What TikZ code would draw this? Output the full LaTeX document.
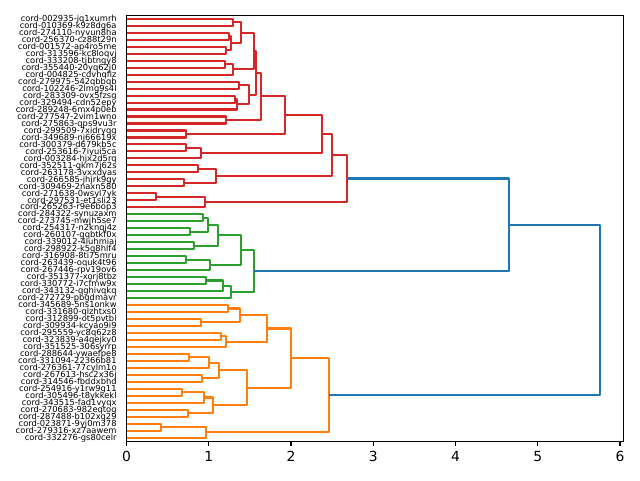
\documentclass[tikz,border=0pt]{standalone}
\usepackage{fontspec}
\setmainfont{DejaVu Sans}
\usetikzlibrary{calc}

\definecolor{tabblue}{HTML}{1F77B4}
\definecolor{taborange}{HTML}{FF7F0E}
\definecolor{tabgreen}{HTML}{2CA02C}
\definecolor{tabred}{HTML}{D62728}

\tikzset{
  link/.style={line width=2.1pt, line join=round},
  spine/.style={line width=1.1pt, black},
  leaflabel/.style={font=\fontsize{8.33}{10}\selectfont, anchor=mid east, inner sep=0pt},
  ticklabel/.style={font=\fontsize{13.89}{16}\selectfont, anchor=north, inner sep=0pt}
}

% one U-shaped link: colour, first child, second child, height, new cluster
\newcommand{\joinlink}[5]{%
  \coordinate (m) at ($(#2)!0.5!(#3)$);
  \coordinate (#5) at (m -| #4,0);
  \draw[link, #1] (#2) -| (#5) |- (#3);
}

\begin{document}
\begin{tikzpicture}[x=1pt, y=-1pt]
    \useasboundingbox (0,0) rectangle (640,480);

    \begin{scope}[shift={(126.5,11.81)}, x=82.25pt, y=-6.98pt]
    % Leaves and their labels
    \foreach \name [count=\i] in {
        cord-002935-jq1xumrh, cord-010369-k9z8dg6a, cord-274110-nyvun8ha,
        cord-256370-cz88t29n, cord-001572-ap4ro5me, cord-313596-kc8loqvj,
        cord-333208-tjbtngy8, cord-355440-20yq62j0, cord-004825-cdvhqfiz,
        cord-279975-542qbbqb, cord-102246-2lmg9s4l, cord-283309-ovx5fzsg,
        cord-329494-cdn52epy, cord-289248-6mx4p0eb, cord-277547-2vim1wno,
        cord-275863-qps9vu3r, cord-299509-7xidryqg, cord-349689-nj66619x,
        cord-300379-d679kb5c, cord-253616-7iyui5ca, cord-003284-hjx2d5rq,
        cord-352511-gkm7j62s, cord-263178-3vxxdyas, cord-266585-jhjrk9gy,
        cord-309469-2naxn580, cord-271638-0wsyl7yk, cord-297531-et1sli23,
        cord-265263-r9e6bop3, cord-284322-synuzaxm, cord-273745-mwjh5se7,
        cord-254317-n2knqj4z, cord-260107-gqbtkf0x, cord-339012-4luhmiaj,
        cord-298922-k5q8hlf4, cord-316908-8ti75mru, cord-263439-oquk4t96,
        cord-267446-rpv19ov6, cord-351377-xorj8tbz, cord-330772-i7cfmw9x,
        cord-343132-qghivqkq, cord-272729-pbgdmavr, cord-345689-5ns1onkw,
        cord-331680-qlzhtxs0, cord-312899-ot5pvtbl, cord-309934-kcyao9i9,
        cord-295559-yc8q62z8, cord-323839-a4qejky0, cord-351525-306syrrp,
        cord-288644-ywaefpe8, cord-331094-22366b81, cord-276361-77cylm1o,
        cord-267613-hsc2x36j, cord-314546-fbddxbhd, cord-254916-y1rw9g11,
        cord-305496-t8ykkekl, cord-343515-fad1vyqx, cord-270683-982eqtog,
        cord-287488-b102xq29, cord-023871-9yj0m378, cord-279316-xz7aawem,
        cord-332276-gs80celr} {
        \coordinate (l\i) at (0,\i);
        \node[leaflabel] (t\i) at ([xshift=-9.7pt]l\i) {\name};
    }

    % Red cluster
    \joinlink{tabred}{l1}{l2}{1.299}{c1}
    \joinlink{tabred}{l3}{l4}{1.246}{c2}
    \joinlink{tabred}{l5}{l6}{1.206}{c3}
    \joinlink{tabred}{c2}{c3}{1.270}{c4}
    \joinlink{tabred}{c1}{c4}{1.392}{c5}
    \joinlink{tabred}{l7}{l8}{1.197}{c6}
    \joinlink{tabred}{c6}{l9}{1.299}{c7}
    \joinlink{tabred}{c5}{c7}{1.550}{c8}
    \joinlink{tabred}{l10}{l11}{1.372}{c9}
    \joinlink{tabred}{l12}{l13}{1.319}{c10}
    \joinlink{tabred}{c10}{l14}{1.347}{c11}
    \joinlink{tabred}{c9}{c11}{1.485}{c12}
    \joinlink{tabred}{c8}{c12}{1.574}{c13}
    \joinlink{tabred}{l15}{l16}{1.206}{c14}
    \joinlink{tabred}{c13}{c14}{1.631}{c15}
    \joinlink{tabred}{l17}{l18}{0.723}{c16}
    \joinlink{tabred}{c15}{c16}{1.927}{c17}
    \joinlink{tabred}{l19}{l20}{0.723}{c18}
    \joinlink{tabred}{c18}{l21}{0.906}{c19}
    \joinlink{tabred}{c17}{c19}{2.381}{c20}
    \joinlink{tabred}{l22}{l23}{0.873}{c21}
    \joinlink{tabred}{l24}{l25}{0.703}{c22}
    \joinlink{tabred}{c21}{c22}{1.084}{c23}
    \joinlink{tabred}{c20}{c23}{2.500}{c24}
    \joinlink{tabred}{l26}{l27}{0.359}{c25}
    \joinlink{tabred}{c25}{l28}{0.954}{c26}
    \joinlink{tabred}{c24}{c26}{2.685}{c27}

    % Green cluster
    \joinlink{tabgreen}{l29}{l30}{0.926}{g1}
    \joinlink{tabgreen}{l31}{l32}{0.772}{g2}
    \joinlink{tabgreen}{g1}{g2}{0.995}{g3}
    \joinlink{tabgreen}{l33}{l34}{0.821}{g4}
    \joinlink{tabgreen}{g3}{g4}{1.108}{g5}
    \joinlink{tabgreen}{l35}{l36}{0.723}{g6}
    \joinlink{tabgreen}{g6}{l37}{1.019}{g7}
    \joinlink{tabgreen}{g5}{g7}{1.392}{g8}
    \joinlink{tabgreen}{l38}{l39}{0.967}{g9}
    \joinlink{tabgreen}{g9}{l40}{1.173}{g10}
    \joinlink{tabgreen}{g10}{l41}{1.271}{g11}
    \joinlink{tabgreen}{g8}{g11}{1.550}{g12}

    % Orange cluster
    \joinlink{taborange}{l42}{l43}{1.234}{o1}
    \joinlink{taborange}{l44}{l45}{0.910}{o2}
    \joinlink{taborange}{o1}{o2}{1.380}{o3}
    \joinlink{taborange}{l46}{l47}{1.149}{o4}
    \joinlink{taborange}{o4}{l48}{1.210}{o5}
    \joinlink{taborange}{o3}{o5}{1.712}{o6}
    \joinlink{taborange}{l49}{l50}{0.760}{o7}
    \joinlink{taborange}{o7}{l51}{1.003}{o8}
    \joinlink{taborange}{l52}{l53}{0.922}{o9}
    \joinlink{taborange}{o8}{o9}{1.125}{o10}
    \joinlink{taborange}{l54}{l55}{0.679}{o11}
    \joinlink{taborange}{o11}{l56}{0.942}{o12}
    \joinlink{taborange}{l57}{l58}{0.752}{o13}
    \joinlink{taborange}{o12}{o13}{1.052}{o14}
    \joinlink{taborange}{o10}{o14}{1.465}{o15}
    \joinlink{taborange}{o6}{o15}{1.996}{o16}
    \joinlink{taborange}{l59}{l60}{0.419}{o17}
    \joinlink{taborange}{o17}{l61}{0.971}{o18}
    \joinlink{taborange}{o16}{o18}{2.462}{o19}

    % Links above the threshold
    \joinlink{tabblue}{c27}{g12}{4.650}{b1}
    \joinlink{tabblue}{b1}{o19}{5.757}{b2}

    % Frame and distance axis
    \draw[spine] (0,0.5) rectangle (6.04,61.5);
    \foreach \t in {0,...,6} {
        \coordinate (x\t) at (\t,61.5);
        \draw[spine] (x\t) -- ++(0pt,-4.86pt);
        \node[ticklabel] (n\t) at ([yshift=-9.72pt]x\t) {\t};
    }
    \end{scope}
\end{tikzpicture}
\end{document}
